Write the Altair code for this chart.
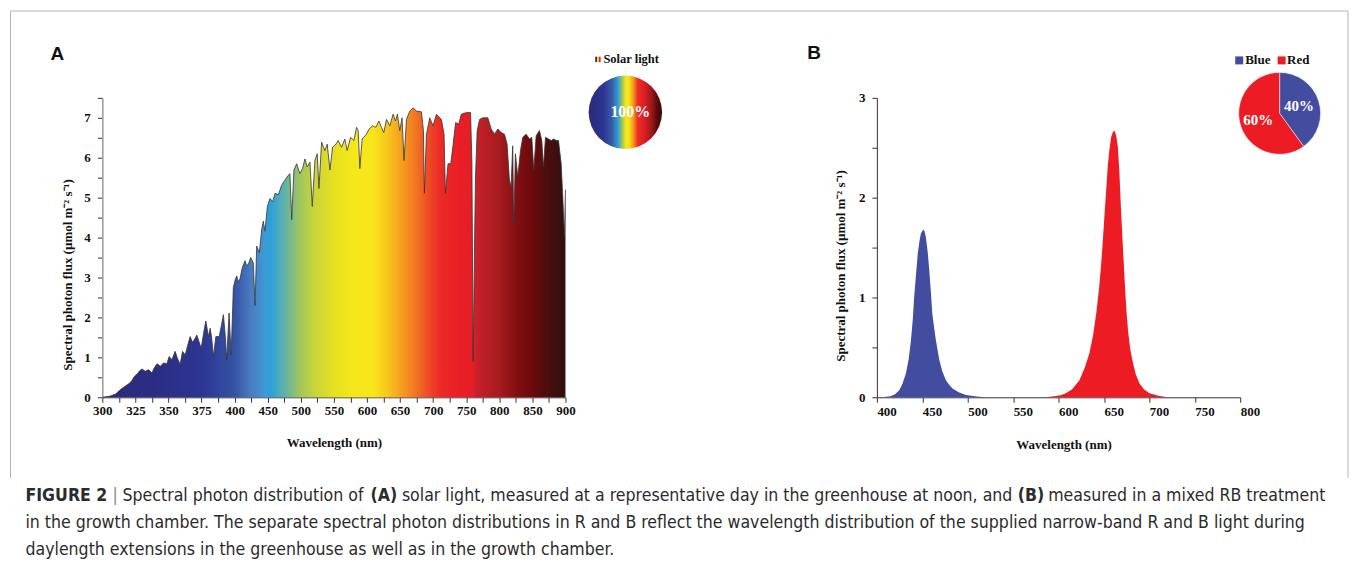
import altair as alt
import pandas as pd

# ---------------- data ----------------
solar_nm = [300, 302, 306, 310, 314, 317, 320, 322, 324.4, 326.9, 328, 330, 332.4, 334.9, 337.5, 339,
            341.3, 343.8, 346.3, 348.8, 350.5, 352.6, 355, 356.5, 358.8, 360.6, 362.6, 364.5, 366.4, 368,
            369.6, 371.4, 373, 374.7, 376.5, 378.2, 380.2, 381.5, 382.6, 384, 385.8, 388.3, 390, 391.5,
            393, 394, 395.8, 397.3, 398.3, 399, 401, 403.2, 405, 408, 411.6, 415.7, 418, 420.7, 424.3,
            428.2, 430.8, 433.3, 437.3, 440.9, 443.3, 445.9, 449.4, 453.4, 457.5, 461, 466, 471, 476, 481,
            483.6, 486.2, 489.6, 493.7, 498.7, 502.7, 506.2, 509.7, 513.8, 517.3, 521.3, 524.8, 527.4,
            531.4, 536.4, 539.9, 544, 548, 553, 556.5, 561.6, 566.6, 570, 575.2, 580.2, 584.2, 586.7,
            589.2, 592.7, 599.3, 603.3, 608.4, 613.4, 617.9, 622, 625.4, 629.5, 634.5, 639.5, 643.1, 646,
            649.6, 653, 656, 659.7, 664.7, 669.7, 674.8, 682.3, 685.3, 686.8, 689.9, 694.9, 699.8, 705,
            712.5, 716.5, 718.6, 722.5, 726.6, 730, 734, 738.6, 742.6, 750.2, 756.6, 758.6, 760.5, 762.7,
            764, 766.6, 770.2, 775.2, 782.7, 787.7, 792.7, 797.8, 802.8, 807.8, 811.8, 815.3, 817.8,
            820.3, 821.8, 824.4, 827.9, 832, 835.5, 840.5, 845.6, 849.1, 852.1, 855.7, 860.7, 864.2,
            866.8, 869.8, 874.3, 878.4, 882.3, 886, 889.5, 893.5, 895.9, 898.5, 900]
solar_flux = [0, 0.01, 0.03, 0.08, 0.2, 0.27, 0.34, 0.4, 0.53, 0.6, 0.66, 0.71, 0.65, 0.69, 0.61, 0.72,
              0.84, 0.78, 0.86, 0.84, 1.02, 0.94, 1.15, 1.0, 0.82, 1.15, 1.06, 1.3, 1.52, 1.38,
              1.44, 1.56, 1.4, 1.23, 1.6, 1.91, 1.52, 1.73, 1.5, 1.02, 1.52, 1.52, 1.8, 2.07,
              1.5, 0.94, 2.11, 1.06, 2.0, 2.75, 2.95, 3.04, 2.9, 2.96, 3.25, 3.42, 3.3, 3.33, 3.5,
              3.37, 2.3, 3.79, 3.62, 4.2, 4.41, 4.16, 4.78, 4.98, 4.9, 5.11, 5.07, 5.31, 5.44, 5.56,
              5.6, 4.45, 5.69, 5.85, 5.6, 5.73, 5.97, 5.77, 5.89, 4.78, 5.93, 6.1, 5.23,
              6.39, 6.18, 6.34, 5.69, 6.26, 6.34, 6.43, 6.26, 6.47, 6.18, 6.51, 6.43, 6.76, 6.68,
              5.73, 6.47, 6.59, 6.72, 6.8, 6.76, 6.92, 6.76, 6.63, 6.96, 6.8, 7.09, 6.92, 7.09,
              6.68, 7.0, 5.93, 6.96, 7.17, 7.25, 7.17, 7.15, 6.68, 5.11, 6.59, 7.0, 6.8, 7.09,
              6.96, 6.59, 5.11, 5.85, 5.85, 6.3, 6.88, 6.84, 7.09, 7.13, 7.13, 5.85, 0.9, 4.03,
              5.5, 6.68, 6.96, 7.0, 7.0, 6.72, 6.59, 6.72, 6.63, 6.59, 6.34, 5.44, 5.27,
              6.3, 4.32, 6.1, 5.52, 6.18, 6.51, 6.59, 6.47, 6.51, 5.69, 6.55, 6.68, 6.43,
              5.77, 6.51, 6.47, 6.43, 6.47, 6.43, 6.43, 5.85, 5.02, 4.03, 5.2]

blue_nm = [405, 415, 420, 424.6, 428, 432, 435, 437.5, 439.5, 441, 443, 445, 447, 448.5, 451, 452.5, 454,
           456, 457.7, 459.5, 461, 463, 465, 468.8, 472, 476, 480, 483, 490, 498, 510, 520]
blue_flux = [0, 0.01, 0.03, 0.07, 0.13, 0.24, 0.38, 0.57, 0.78, 1.0, 1.22, 1.44, 1.57, 1.64, 1.68, 1.66, 1.6,
             1.45, 1.27, 1.05, 0.84, 0.7, 0.57, 0.37, 0.26, 0.17, 0.12, 0.09, 0.05, 0.023, 0.008, 0]
red_nm = [585, 595, 602, 608, 615, 623, 629, 634, 638, 641.5, 644.5, 647, 649, 650.7, 652.5, 654.4, 656,
          658, 660, 661.8, 663.5, 665.4, 667, 669, 671, 672.8, 674.5, 676.5, 679, 682, 685, 689, 694,
          700, 710, 720]
red_flux = [0, 0.01, 0.02, 0.04, 0.08, 0.17, 0.3, 0.44, 0.62, 0.84, 1.08, 1.34, 1.6, 1.84, 2.08, 2.34, 2.48,
            2.61, 2.66, 2.67, 2.62, 2.5, 2.25, 1.84, 1.48, 1.17, 0.9, 0.67, 0.48, 0.34, 0.23, 0.14, 0.08,
            0.04, 0.015, 0]

pie_names = ["Blue", "Red"]
pie_share = [40, 60]

ticks_a_major = [300, 325, 350, 375, 400, 450, 500, 550, 600, 650, 700, 750, 800, 850, 900]
ticks_a_minor = [312.5, 337.5, 362.5, 387.5, 425, 475, 525, 575, 625, 675, 725, 775, 825, 875]
ticks_ya = [0, 0.5, 1, 1.5, 2, 2.5, 3, 3.5, 4, 4.5, 5, 5.5, 6, 6.5, 7, 7.5]
ticks_xb = [400, 450, 500, 550, 600, 650, 700, 750, 800]
ticks_yb = [0, 0.5, 1, 1.5, 2, 2.5, 3]

y_title = "Spectral photon flux (µmol m⁻² s⁻¹)"
x_title = "Wavelength (nm)"

cap1 = [("FIGURE 2", "bold"), ("|", "normal"), ("Spectral photon distribution of", "normal"),
        ("(A)", "bold"), ("solar light, measured at a representative day in the greenhouse at noon, and", "normal"),
        ("(B)", "bold"), ("measured in a mixed RB treatment", "normal")]
cap2 = "in the growth chamber. The separate spectral photon distributions in R and B reflect the wavelength distribution of the supplied narrow-band R and B light during"
cap3 = "daylength extensions in the greenhouse as well as in the growth chamber."

# ---------------- style ----------------
WA, HA = 464, 300
WB, HB = 364, 300
AX, AY = 102, 97          # panel A plot origin (image coords)
BX, BY = 878, 97
SERIF = "Liberation Serif"
SANS = "Liberation Sans"
NARROW = "Liberation Sans Narrow, DejaVu Sans Condensed, Arial Narrow, sans-serif"
BLUE = "#434da0"
RED = "#ed1c24"
CAP_SIZE = 17.6
# approximate segment widths (px at 18px) used to lay out the mixed-weight first caption line
cap1_w18 = [84, 5.3, 249, 27, 626, 26, 282]
SPACE18 = 5.1


def frac(nm):
    if nm <= 400:
        return (nm - 300) / 100 * 4 / 14
    return 4 / 14 + (nm - 400) / 500 * 10 / 14


spec_colors = [(300, "#2d2a78"), (340, "#2b2d85"), (375, "#2c3592"), (400, "#3553a4"), (425, "#4a7cc2"),
               (445, "#3d98d4"), (455, "#2ea0d8"), (470, "#52aeb9"), (485, "#7ab98a"), (500, "#a3c65a"),
               (520, "#c8d43a"), (550, "#e6e021"), (580, "#f5e81a"), (610, "#f8e51c"), (630, "#f7c81b"),
               (650, "#f5a21e"), (670, "#f27d22"), (690, "#ef5125"), (710, "#ec2a27"), (740, "#e91e25"),
               (760, "#e41f27"), (766, "#c8202a"), (800, "#a51b20"), (825, "#850f12"), (850, "#6a0a0c"),
               (875, "#4a0e0e"), (900, "#2f1010")]
area_grad = alt.Gradient(gradient="linear", x1=0, x2=1, y1=0, y2=0,
                         stops=[alt.GradientStop(offset=frac(n), color=c) for n, c in spec_colors])
circle_grad = alt.Gradient(gradient="linear", x1=0, x2=1, y1=0, y2=0, stops=[
    alt.GradientStop(offset=0.0, color="#2d2a78"), alt.GradientStop(offset=0.2, color="#2b3590"),
    alt.GradientStop(offset=0.32, color="#3a5aa8"), alt.GradientStop(offset=0.4, color="#2ea0d8"),
    alt.GradientStop(offset=0.46, color="#a8c850"), alt.GradientStop(offset=0.51, color="#f5e81a"),
    alt.GradientStop(offset=0.55, color="#f5e01a"), alt.GradientStop(offset=0.61, color="#f4961f"),
    alt.GradientStop(offset=0.67, color="#ee2b24"), alt.GradientStop(offset=0.75, color="#e01f26"),
    alt.GradientStop(offset=0.85, color="#a01a1c"), alt.GradientStop(offset=0.93, color="#5e0a0a"),
    alt.GradientStop(offset=1.0, color="#2c0f0f")])
mini_grad = alt.Gradient(gradient="linear", x1=0, x2=1, y1=0, y2=0, stops=[
    alt.GradientStop(offset=0.0, color="#2b3590"), alt.GradientStop(offset=0.33, color="#2b3590"),
    alt.GradientStop(offset=0.34, color="#f5d81a"), alt.GradientStop(offset=0.66, color="#f5d81a"),
    alt.GradientStop(offset=0.67, color=RED), alt.GradientStop(offset=1.0, color=RED)])

one = pd.DataFrame({"k": [0]})


def text(t, x, y, size, font=SERIF, weight="bold", color="#111111", align="left", baseline="middle"):
    return alt.Chart(one).mark_text(text=t, font=font, fontSize=size, fontWeight=weight, color=color,
                                    align=align, baseline=baseline).encode(x=alt.value(x), y=alt.value(y))


def axis_common(**kw):
    base = dict(labelFont=SERIF, labelFontSize=13, labelFontWeight="bold", labelColor="#111111",
                titleFont=SERIF, titleFontSize=13, titleFontWeight="bold", titleColor="#111111",
                tickColor="#333333", tickSize=5, grid=False, labelFlush=False, labelOverlap=False,
                tickCount=200)
    base.update(kw)
    return alt.Axis(**base)


# ---------------- panel A ----------------
solar = pd.DataFrame({"nm": solar_nm, "flux": solar_flux})
major_list = "[" + ",".join(str(v) for v in ticks_a_major) + "]"
xa = alt.X("nm:Q", scale=alt.Scale(domain=[300, 400, 900], range=[0, WA * 4 / 14, WA], nice=False),
           axis=axis_common(values=sorted(ticks_a_major + ticks_a_minor),
                            labelExpr="indexof(%s, datum.value) >= 0 ? format(datum.value, 'd') : ''" % major_list,
                            title=x_title, titleX=WA / 2, titleY=45, titleBaseline="middle",
                            domainColor="#333333", labelPadding=2))
ya = alt.Y("flux:Q", scale=alt.Scale(domain=[0, 7.5], nice=False),
           axis=axis_common(values=ticks_ya, labelExpr="datum.value % 1 == 0 ? format(datum.value, 'd') : ''",
                            title=y_title, titleX=-35, titleY=177, titleAngle=270, titleAlign="center",
                            titleBaseline="middle", domainColor="#999999", domainWidth=1.5, labelPadding=7))

area_a = alt.Chart(solar).mark_area(color=area_grad, opacity=1).encode(x=xa, y=ya)
edge_a = alt.Chart(solar).mark_line(color="#333333", strokeWidth=0.8).encode(x="nm:Q", y="flux:Q")

circle_a = alt.Chart(one).mark_point(shape="circle", filled=True, fill=circle_grad, size=5410, opacity=1,
                                     strokeWidth=0).encode(x=alt.value(626 - AX), y=alt.value(111.5 - AY))
mini_a = alt.Chart(one).mark_point(shape="square", filled=True, fill=mini_grad, size=30, opacity=1,
                                   strokeWidth=0).encode(x=alt.value(598.5 - AX), y=alt.value(58.5 - AY))

frame_col = "#b4b4b4"
frame_top = alt.Chart(one).mark_rule(color=frame_col, strokeWidth=1).encode(
    x=alt.value(10 - AX), x2=alt.value(1350 - AX), y=alt.value(10 - AY))
frame_left = alt.Chart(one).mark_rule(color=frame_col, strokeWidth=1).encode(
    x=alt.value(10 - AX), y=alt.value(10 - AY), y2=alt.value(478 - AY))
frame_right = alt.Chart(one).mark_rule(color=frame_col, strokeWidth=1).encode(
    x=alt.value(1350 - AX), y=alt.value(10 - AY), y2=alt.value(478 - AY))

# caption (laid out relative to panel A's origin)
k = CAP_SIZE / 18
cap_layers = []
xpos = 25
for (seg, w), w18 in zip(cap1, cap1_w18):
    col = "#8a8a8a" if seg == "|" else "#2b2b2b"
    cap_layers.append(text(seg, xpos - AX, 496 - AY, CAP_SIZE, font=NARROW, weight=w, color=col))
    xpos += (w18 + SPACE18) * k
cap_layers.append(text(cap2, 25 - AX, 523 - AY, CAP_SIZE, font=NARROW, weight="normal", color="#2b2b2b"))
cap_layers.append(text(cap3, 25 - AX, 550 - AY, CAP_SIZE, font=NARROW, weight="normal", color="#2b2b2b"))

panel_a = alt.layer(
    area_a, edge_a, circle_a, mini_a,
    text("100%", 631 - AX, 111 - AY, 16, color="white", align="center"),
    text("Solar light", 604 - AX, 58.5 - AY, 12.5),
    text("A", 57 - AX, 53 - AY, 19, font=SANS, color="#111111", align="center"),
    frame_top, frame_left, frame_right, *cap_layers,
).properties(width=WA, height=HA)

# ---------------- panel B ----------------
blue = pd.DataFrame({"nm": blue_nm, "flux": blue_flux})
red = pd.DataFrame({"nm": red_nm, "flux": red_flux})
xb = alt.X("nm:Q", scale=alt.Scale(domain=[400, 800], nice=False),
           axis=axis_common(values=ticks_xb, format="d", title=x_title, titleX=187, titleY=47,
                            titleBaseline="middle", labelAlign="left", domainColor="#333333", labelPadding=3))
yb = alt.Y("flux:Q", scale=alt.Scale(domain=[0, 3], nice=False),
           axis=axis_common(values=ticks_yb, labelExpr="datum.value % 1 == 0 ? format(datum.value, 'd') : ''",
                            title=y_title, titleX=-36, titleY=168, titleAngle=270, titleAlign="center",
                            titleBaseline="middle", domainColor="#333333", labelPadding=7))

area_blue = alt.Chart(blue).mark_area(color=BLUE, opacity=1).encode(x=xb, y=yb)
area_red = alt.Chart(red).mark_area(color=RED, opacity=1).encode(x="nm:Q", y="flux:Q")

pie_df = pd.DataFrame({"name": pie_names, "share": pie_share, "order": [0, 1]})
pie = alt.Chart(pie_df).mark_arc(outerRadius=41, stroke="white", strokeWidth=0.5).encode(
    theta=alt.Theta("share:Q", stack=True),
    order=alt.Order("order:Q"),
    color=alt.Color("name:N", scale=alt.Scale(domain=pie_names, range=[BLUE, RED]), legend=None),
    x=alt.value(1281.5 - BX), y=alt.value(112.5 - BY))

sq_blue = alt.Chart(one).mark_point(shape="square", filled=True, color=BLUE, size=64, opacity=1).encode(
    x=alt.value(1241 - BX), y=alt.value(59.5 - BY))
sq_red = alt.Chart(one).mark_point(shape="square", filled=True, color=RED, size=64, opacity=1).encode(
    x=alt.value(1283.5 - BX), y=alt.value(59.5 - BY))

panel_b = alt.layer(
    area_blue, area_red, pie, sq_blue, sq_red,
    text("Blue", 1247 - BX, 59.5 - BY, 13),
    text("Red", 1289 - BX, 59.5 - BY, 13),
    text("40%", 1301 - BX, 105.5 - BY, 15, color="white", align="center"),
    text("60%", 1260 - BX, 119 - BY, 15, color="white", align="center"),
    text("B", 815 - BX, 52 - BY, 19, font=SANS, color="#111111", align="center"),
).resolve_scale(color="independent").properties(width=WB, height=HB)

chart = alt.hconcat(panel_a, panel_b, spacing=BX - AX - WA).properties(
    bounds="flush", padding={"left": 1.5, "top": 1.5, "right": 0, "bottom": 0}, background="white"
).configure_view(strokeWidth=0)

chart.save("out.html", embed_options={"renderer": "svg", "actions": False})
